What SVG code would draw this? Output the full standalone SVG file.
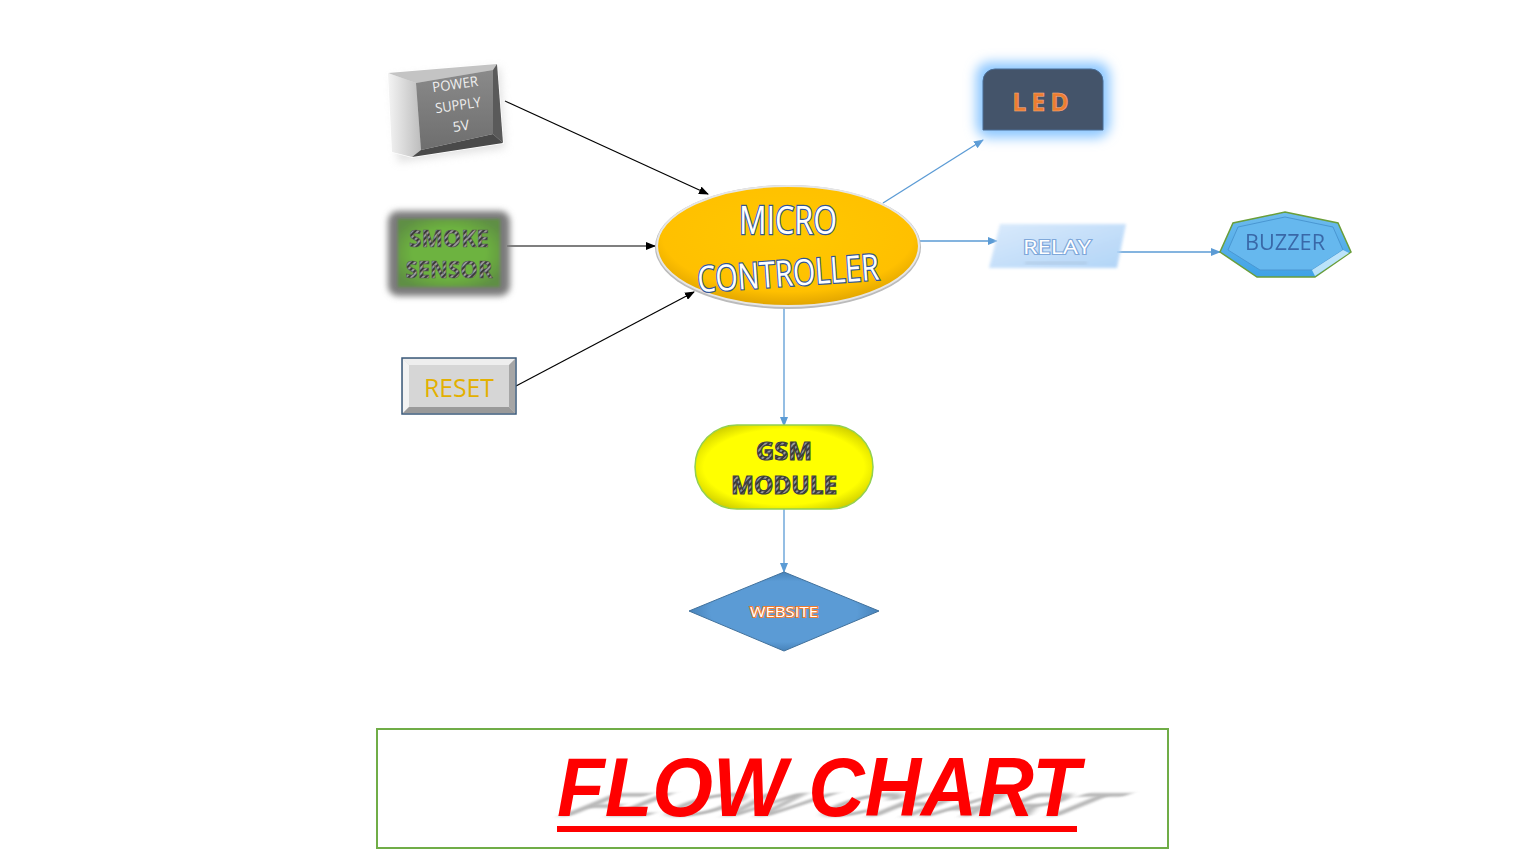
<svg xmlns="http://www.w3.org/2000/svg" width="1524" height="853" viewBox="0 0 1524 853">
<defs>
<style>
.blk{stroke:#000;stroke-width:1.2;fill:none}
.blu{stroke:#5B9BD5;stroke-width:1.3;fill:none}
.t{font-family:"Open Sans","Liberation Sans",sans-serif;text-anchor:middle}
.po{paint-order:stroke}
</style>
<marker id="ab" markerWidth="10" markerHeight="8" refX="9" refY="4" orient="auto" markerUnits="userSpaceOnUse"><path d="M0,0 L10,4 L0,8 z" fill="#000"/></marker>
<marker id="au" markerWidth="10" markerHeight="8" refX="9" refY="4" orient="auto" markerUnits="userSpaceOnUse"><path d="M0,0 L10,4 L0,8 z" fill="#5B9BD5"/></marker>
<filter id="blur6" x="-30%" y="-30%" width="160%" height="160%"><feGaussianBlur stdDeviation="6"/></filter>
<filter id="blur3" x="-30%" y="-30%" width="160%" height="160%"><feGaussianBlur stdDeviation="3"/></filter>
<filter id="blur2" x="-30%" y="-30%" width="160%" height="160%"><feGaussianBlur stdDeviation="1.5"/></filter>
<filter id="blur4" x="-20%" y="-80%" width="140%" height="260%"><feGaussianBlur stdDeviation="4"/></filter>
<pattern id="stripe" width="4" height="4" patternUnits="userSpaceOnUse" patternTransform="rotate(45)"><rect width="4" height="4" fill="#9a9a9a"/><rect width="2" height="4" fill="#3a3a3a"/></pattern>
<radialGradient id="gold" cx="50%" cy="40%" r="60%"><stop offset="0" stop-color="#FFC800"/><stop offset="0.8" stop-color="#FFC000"/><stop offset="1" stop-color="#E0A400"/></radialGradient>
<radialGradient id="yel" cx="50%" cy="50%" r="60%"><stop offset="0.75" stop-color="#FFFF00"/><stop offset="1" stop-color="#C8C800"/></radialGradient>
<radialGradient id="grn" cx="50%" cy="50%" r="60%"><stop offset="0.6" stop-color="#6DB33F"/><stop offset="1" stop-color="#5f8f44"/></radialGradient>
<linearGradient id="relay" x1="0" y1="0" x2="1" y2="1"><stop offset="0" stop-color="#D6E8FB"/><stop offset="1" stop-color="#A9D0F7"/></linearGradient>
<linearGradient id="buzz" x1="0" y1="0" x2="0" y2="1"><stop offset="0" stop-color="#6FBCEE"/><stop offset="1" stop-color="#3FA2E6"/></linearGradient>
<radialGradient id="web" cx="50%" cy="50%" r="55%"><stop offset="0.7" stop-color="#5B9BD5"/><stop offset="1" stop-color="#3E78AE"/></radialGradient>
<linearGradient id="ps" x1="0" y1="0" x2="0" y2="1"><stop offset="0" stop-color="#8a8a8a"/><stop offset="1" stop-color="#6e6e6e"/></linearGradient>
<linearGradient id="psl" x1="0" y1="0" x2="1" y2="0"><stop offset="0" stop-color="#f4f4f4"/><stop offset="1" stop-color="#bdbdbd"/></linearGradient>
</defs>
<rect width="1524" height="853" fill="#fff"/>

<g id="connectors">
<line class="blk" x1="505" y1="101" x2="708" y2="194" marker-end="url(#ab)"/>
<line class="blk" x1="507" y1="246" x2="655" y2="246" marker-end="url(#ab)"/>
<line class="blk" x1="516" y1="386" x2="694" y2="292" marker-end="url(#ab)"/>
<line class="blu" x1="883" y1="203" x2="983" y2="140" marker-end="url(#au)"/>
<line class="blu" x1="920" y1="241" x2="997" y2="241" marker-end="url(#au)"/>
<line class="blu" x1="1117" y1="252" x2="1220" y2="252" marker-end="url(#au)"/>
<line class="blu" x1="784" y1="308" x2="784" y2="426" marker-end="url(#au)"/>
<line class="blu" x1="784" y1="509" x2="784" y2="572" marker-end="url(#au)"/>
</g>

<g id="power">
<polygon points="392,78 500,68 505,148 398,162" fill="#ccc" filter="url(#blur4)" opacity="0.6"/>
<polygon points="388,73 497,64 503,143 412,157 392,152" fill="#d8d8d8" stroke="#fff" stroke-width="1.5"/>
<polygon points="388,73 497,64 493,70 416,83" fill="#c4c4c4"/>
<polygon points="388,73 416,83 421,150 412,157 392,152" fill="url(#psl)"/>
<polygon points="421,150 493,134 503,143 412,157" fill="#4a4a4a"/>
<polygon points="493,70 497,64 503,143 493,134" fill="#5a5a5a"/>
<polygon points="416,83 493,70 493,134 421,150" fill="url(#ps)"/>
<g transform="rotate(-8 458 105)" class="t" font-size="14" fill="#f0f0f0">
<text x="458" y="89" textLength="46" lengthAdjust="spacingAndGlyphs">POWER</text>
<text x="458" y="110" textLength="46" lengthAdjust="spacingAndGlyphs">SUPPLY</text>
<text x="458" y="131">5V</text>
</g>
</g>

<g id="smoke">
<rect x="388" y="211" width="122" height="85" rx="10" fill="#7a7a7a" filter="url(#blur3)"/>
<rect x="398" y="219" width="102" height="68" fill="url(#grn)" filter="url(#blur2)"/>
<g class="t" font-size="24" font-weight="bold" fill="url(#stripe)" stroke="#555" stroke-width="0.6">
<text x="449" y="247" textLength="80" lengthAdjust="spacingAndGlyphs">SMOKE</text>
<text x="449" y="278" textLength="87" lengthAdjust="spacingAndGlyphs">SENSOR</text>
</g>
</g>

<g id="reset">
<rect x="402" y="358" width="114" height="56" fill="#d9d9d9" stroke="#3B5A7A" stroke-width="1.5"/>
<polygon points="403,359 515,359 509,365 409,365" fill="#eee"/>
<polygon points="403,359 409,365 409,407 403,413" fill="#f2f2f2"/>
<polygon points="515,359 515,413 509,407 509,365" fill="#a6a6a6"/>
<polygon points="403,413 515,413 509,407 409,407" fill="#9a9a9a"/>
<rect x="409" y="365" width="100" height="42" fill="#d6d6d6"/>
<text class="t" x="459" y="397" font-size="25" fill="#E3B000" textLength="70" lengthAdjust="spacingAndGlyphs">RESET</text>
</g>

<g id="micro">
<ellipse cx="788" cy="247" rx="133" ry="62" fill="#bbb"/>
<ellipse cx="788" cy="246" rx="131" ry="60" fill="url(#gold)" stroke="#e6e6e6" stroke-width="2"/>
<g class="t po" fill="#fff" stroke="#2F5597" stroke-width="2.5" font-size="38">
<text x="788" y="234" textLength="98" lengthAdjust="spacingAndGlyphs">MICRO</text>
<text x="788" y="286" font-size="36" textLength="182" lengthAdjust="spacingAndGlyphs" transform="rotate(-4 788 272)">CONTROLLER</text>
</g>
</g>

<g id="led">
<rect x="976" y="62" width="134" height="76" rx="14" fill="#8ec8ff" filter="url(#blur6)"/>
<path d="M983,130 V81 a12,12 0 0 1 12,-12 H1091 a12,12 0 0 1 12,12 V130 Z" fill="#44546A" stroke="#4a6c94" stroke-width="1"/>
<text class="t" x="1043" y="111" font-size="25" font-weight="bold" fill="#ED7D31" stroke="#F4B183" stroke-width="0.5" letter-spacing="5">LED</text>
</g>

<g id="relay">
<polygon points="1000,224 1126,224 1117,268 989,268" fill="url(#relay)" filter="url(#blur2)" opacity="0.9"/>
<text class="t po" x="1057" y="254" font-size="20" fill="#fff" stroke="#7FA8DA" stroke-width="2.2" textLength="68" lengthAdjust="spacingAndGlyphs">RELAY</text>
<rect x="1025" y="262" width="62" height="2" fill="#9fb4cc" opacity="0.5" filter="url(#blur2)"/>
</g>

<g id="buzzer">
<polygon points="1285,212 1338,223 1351,252 1315,277 1257,277 1220,252 1233,223" fill="url(#buzz)" stroke="#6A9E3A" stroke-width="1.5"/>
<polygon points="1285,217 1333,227 1343,250 1312,270 1260,270 1228,250 1238,227" fill="#66B8EE" stroke="#4a97d2" stroke-width="1"/>
<polygon points="1312,270 1343,250 1349,253 1315,276" fill="#d8f2ff" opacity="0.8"/>
<text class="t" x="1285" y="250" font-size="22" fill="#2F5597" opacity="0.8" textLength="80" lengthAdjust="spacingAndGlyphs">BUZZER</text>
</g>

<g id="gsm">
<rect x="695" y="425" width="178" height="84" rx="42" fill="url(#yel)" stroke="#92D050" stroke-width="1.5"/>
<g class="t" font-size="25" font-weight="bold" fill="url(#stripe)" stroke="#404040" stroke-width="1.2">
<text x="784" y="460" textLength="56" lengthAdjust="spacingAndGlyphs">GSM</text>
<text x="784" y="494" textLength="106" lengthAdjust="spacingAndGlyphs">MODULE</text>
</g>
</g>

<g id="website">
<polygon points="784,572 879,611 784,651 689,611" fill="url(#web)" stroke="#41719C" stroke-width="1"/>
<text class="t po" x="784" y="617" font-size="15" fill="#fff" stroke="#ED7D31" stroke-width="2" textLength="68" lengthAdjust="spacingAndGlyphs">WEBSITE</text>
</g>

<g id="title">
<rect x="377" y="729" width="791" height="119" fill="none" stroke="#70AD47" stroke-width="2"/>
<text x="557" y="816" font-family="Liberation Sans,sans-serif" font-size="84" font-weight="bold" font-style="italic" fill="#888" opacity="0.6" filter="url(#blur3)" textLength="523" lengthAdjust="spacingAndGlyphs" transform="matrix(1 0 -0.8 0.4 653 490)">FLOW CHART</text>
<text x="557" y="816" font-family="Liberation Sans,sans-serif" font-size="84" font-weight="bold" font-style="italic" fill="#FF0000" textLength="523" lengthAdjust="spacingAndGlyphs">FLOW CHART</text>
<rect x="557" y="826" width="520" height="6" fill="#FF0000"/>
</g>
</svg>
